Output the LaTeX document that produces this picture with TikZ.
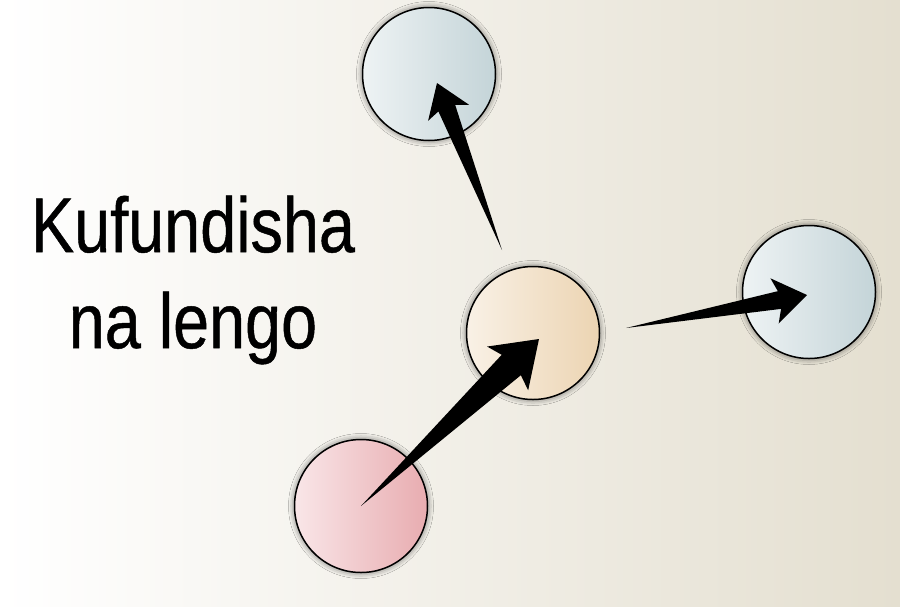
\documentclass[tikz,border=0pt]{standalone}
\usepackage{fontspec}
\newfontfamily\titlefont[FakeStretch=0.83,FakeBold=0.6]{Liberation Sans}
\usetikzlibrary{calc,shadows.blur}
\definecolor{bgbeige}{RGB}{228,223,208}
\definecolor{bgmid}{RGB}{241,239,233}
\definecolor{bluel}{RGB}{238,243,244}
\definecolor{blued}{RGB}{196,212,216}
\definecolor{sandl}{RGB}{249,241,230}
\definecolor{sandd}{RGB}{236,212,178}
\definecolor{rosel}{RGB}{249,230,232}
\definecolor{rosed}{RGB}{232,172,176}
% tapered arrow: tail, tip, head length, head half width, shaft half width
\newcommand{\wedgearrow}[5]{%
  \path ($(#2)!#3!(#1)$) coordinate (hb) ($(#2)!#3+5pt!(#1)$) coordinate (hw);
  \fill (#1) -- ($(hb)!#5!90:(#2)$) -- ($(hw)!#4!90:(#2)$) -- (#2)
    -- ($(hw)!#4!-90:(#2)$) -- ($(hb)!#5!-90:(#2)$) -- cycle;}
\tikzset{ball/.style={circle,draw=black,line width=1.5pt,minimum size=133pt,inner sep=0pt,
    blur shadow={shadow xshift=0pt,shadow yshift=0pt,shadow blur radius=6pt,shadow opacity=60}},
  title/.style={align=center,inner sep=0pt,font=\fontsize{78}{96}\selectfont\titlefont}}
\begin{document}
\begin{tikzpicture}[x=1pt,y=-1pt]
\shade[left color=white,middle color=bgmid,right color=bgbeige] (0,0) rectangle (900,606);
\useasboundingbox (0,0) rectangle (900,606);
% title
\node[title] (title) at (193,280) {Kufundisha\\na lengo};
% circles
\node[ball,left color=bluel,right color=blued] (top) at (429,74) {};
\node[ball,left color=sandl,right color=sandd] (mid) at (533,333) {};
\node[ball,left color=bluel,right color=blued] (right) at (809,292) {};
\node[ball,left color=rosel,right color=rosed] (low) at (361,506) {};
% arrows
\coordinate (t1) at (502,250);
\coordinate (t2) at (626,328);
\coordinate (p1) at ($(top)+(8,9)$);
\coordinate (p2) at ($(right)+(-2,3)$);
\coordinate (p3) at ($(mid)+(6,6)$);
\wedgearrow{t1}{p1}{27pt}{22pt}{9pt}
\wedgearrow{t2}{p2}{28pt}{23pt}{9pt}
\wedgearrow{low.center}{p3}{38pt}{30pt}{14pt}
\end{tikzpicture}
\end{document}
